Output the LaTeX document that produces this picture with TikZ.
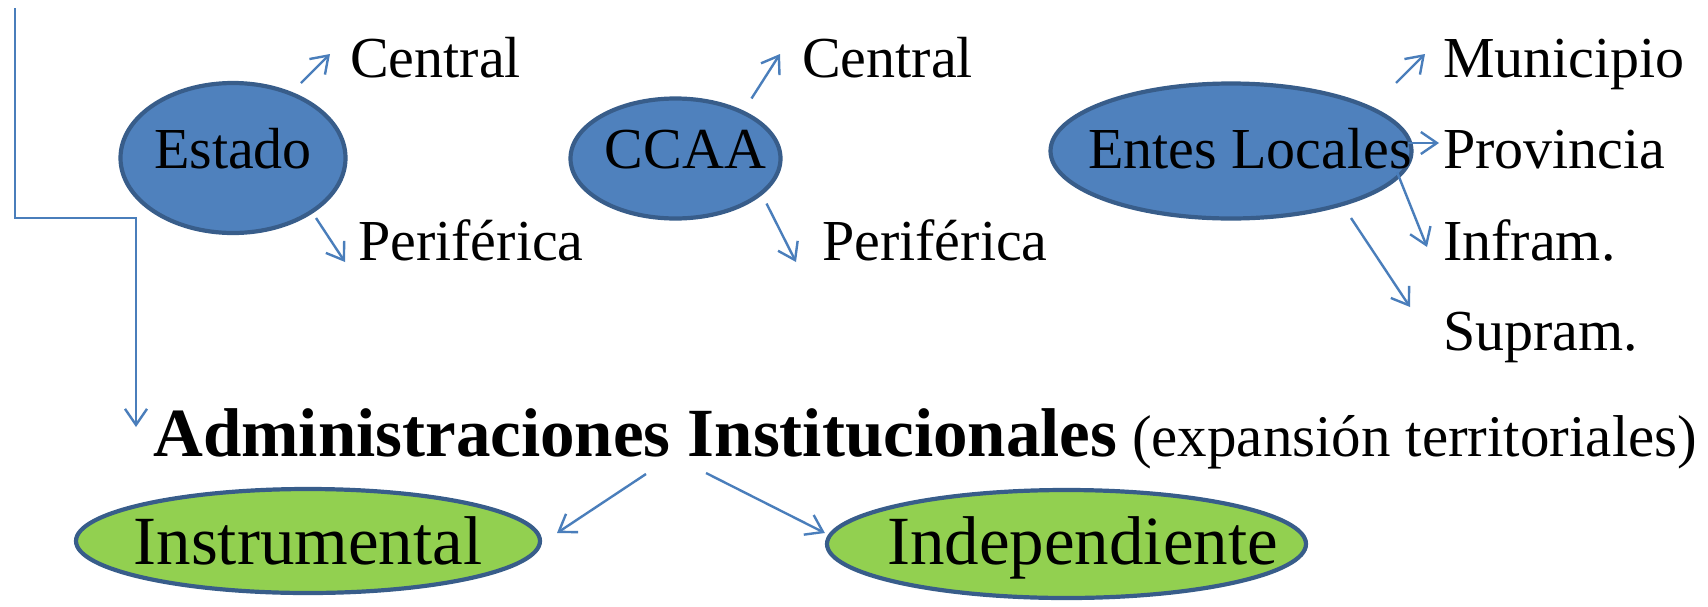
\documentclass[tikz,border=0pt]{standalone}
\usepackage{fontspec}
\setmainfont{Liberation Serif}
\usetikzlibrary{shapes.geometric,arrows.meta}
\definecolor{ovalblue}{HTML}{4F81BD}
\definecolor{ovalgreen}{HTML}{92D050}
\definecolor{ovalline}{HTML}{385D8A}
\definecolor{arrowblue}{HTML}{4A7EBB}
\begin{document}
\begin{tikzpicture}[x=1pt,y=-1pt]
		\tikzstyle{every node}+=[inner sep=0pt]
		\tikzstyle{oval}=[ellipse, draw=ovalline, line width=4.2pt, font=\fontsize{58}{70}\selectfont]
		\tikzstyle{blueoval}=[oval, fill=ovalblue, text height=40pt, text depth=20pt]
		\tikzstyle{greenoval}=[oval, fill=ovalgreen, font=\fontsize{69}{80}\selectfont, text height=48pt, text depth=2pt]
		\tikzstyle{item}=[anchor=base west, font=\fontsize{58}{70}\selectfont]
		\tikzstyle{arr}=[draw=arrowblue, line width=2.4pt, -{Straight Barb[length=16pt,width=22pt]}]
		\useasboundingbox (0,0) rectangle (1708,606);
		\node [blueoval, minimum width=225pt, minimum height=150pt] (est) at (233,158) {\makebox[0pt]{Estado}};
		\node [blueoval, minimum width=210pt, minimum height=120pt] (ccaa) at (675.5,158.5) {\makebox[0pt]{\hspace*{20pt}CCAA}};
		\node [blueoval, minimum width=361pt, minimum height=135pt, text depth=6pt] (ent) at (1231,151) {\makebox[0pt]{\hspace*{38pt}Entes Locales}};
		\node [item] (cena) at (350,77) {Central};
		\node [item] (pera) at (358,260) {Periférica};
		\node [item] (cenb) at (802,77) {Central};
		\node [item] (perb) at (822,260) {Periférica};
		\node [item] (mun) at (1443,77) {Municipio};
		\node [item] (pro) at (1443,168) {Provincia};
		\node [item] (inf) at (1443,260) {Infram.};
		\node [item] (sup) at (1443,350) {Supram.};
		\node [anchor=base west, font=\fontsize{59}{70}\selectfont] (adm) at (153,456) {{\fontsize{69}{80}\selectfont\bfseries Administraciones Institucionales} (expansión territoriales)};
		\node [greenoval, minimum width=464pt, minimum height=104pt] (ins) at (308,541) {\makebox[0pt]{Instrumental}};
		\node [greenoval, minimum width=479pt, minimum height=108pt, text depth=8pt] (ind) at (1066.5,544) {\makebox[0pt]{\hspace*{32pt}Independiente}};
		\draw [arr] ([shift={(68,-75)}]est.center) -- ([shift={(-20,-23)}]cena.base west);
		\draw [arr] ([shift={(83,60)}]est.center) -- ([shift={(-13,2)}]pera.base west);
		\draw [arr] ([shift={(76,-60)}]ccaa.center) -- ([shift={(-22,-23)}]cenb.base west);
		\draw [arr] ([shift={(91,45)}]ccaa.center) -- ([shift={(-26,2)}]perb.base west);
		\draw [arr] ([shift={(165,-68)}]ent.center) -- ([shift={(-18,-23)}]mun.base west);
		\draw [arr] ([shift={(177,-8)}]ent.center) -- ([shift={(-4,-25)}]pro.base west);
		\draw [arr] ([shift={(166,21)}]ent.center) -- ([shift={(-16,-13)}]inf.base west);
		\draw [arr] ([shift={(120,67)}]ent.center) -- ([shift={(-33,-43)}]sup.base west);
		\draw [arr] ([shift={(493,18)}]adm.base west) -- ([shift={(249,-8)}]ins.center);
		\draw [arr] ([shift={(553,17)}]adm.base west) -- ([shift={(0,-11)}]ind.west);
		\coordinate (top) at (15,8);
		\draw [arr] (top) -- ++(0,210) -| ([shift={(-17,-29)}]adm.base west);
\end{tikzpicture}
\end{document}
